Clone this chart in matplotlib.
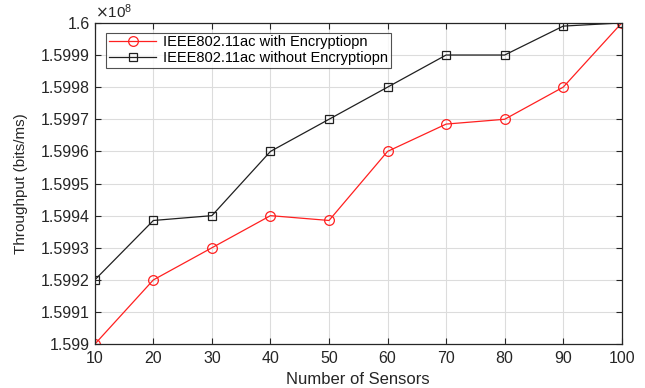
import matplotlib
matplotlib.use("Agg")
import matplotlib.pyplot as plt
from matplotlib.ticker import FuncFormatter, MultipleLocator

plt.rcParams['font.family'] = ['Liberation Sans', 'DejaVu Sans']

sensors = [10, 20, 30, 40, 50, 60, 70, 80, 90, 100]
with_enc = [1.5990e8, 1.5992e8, 1.5993e8, 1.5994e8, 1.599385e8,
            1.5996e8, 1.599685e8, 1.5997e8, 1.5998e8, 1.6000e8]
without_enc = [1.5992e8, 1.599385e8, 1.5994e8, 1.5996e8, 1.5997e8,
               1.5998e8, 1.5999e8, 1.5999e8, 1.59999e8, 1.6000e8]

fig = plt.figure(figsize=(6.45, 3.88), dpi=100)
ax = fig.add_axes([0.147, 0.113, 0.817, 0.828])

ax.plot(sensors, with_enc, color='#ff2020', lw=0.9, marker='o', ms=7,
        mfc='none', mec='#ff2020', mew=0.9,
        label='IEEE802.11ac with Encryptiopn')
ax.plot(sensors, without_enc, color='#202020', lw=0.9, marker='s', ms=5.5,
        mfc='none', mec='#202020', mew=0.9,
        label='IEEE802.11ac without Encryptiopn')

ax.set_xlim(10, 100)
ax.set_ylim(1.5990e8, 1.6000e8)
ax.xaxis.set_major_locator(MultipleLocator(10))
ax.yaxis.set_major_locator(MultipleLocator(1e4))
ax.yaxis.set_major_formatter(FuncFormatter(lambda v, p: f"{v / 1e8:.5f}".rstrip('0').rstrip('.')))

ax.grid(True, color='#dcdcdc', lw=0.8)
ax.set_axisbelow(True)
ax.tick_params(direction='in', top=True, right=True, labelsize=11.5,
               colors='#262626', length=4, width=0.8)
ax.tick_params(axis='x', pad=5)
for s in ax.spines.values():
    s.set_color('#262626')
    s.set_linewidth(0.9)

ax.set_xlabel('Number of Sensors', fontsize=12, color='#262626', labelpad=4)
ax.set_ylabel('Throughput (bits/ms)', fontsize=11, color='#262626', labelpad=9)
ax.text(0.0, 1.005, r'$\times\mathregular{10^{8}}$', transform=ax.transAxes, fontsize=11,
        color='#262626', ha='left', va='bottom')

leg = ax.legend(loc='upper left', bbox_to_anchor=(0.022, 0.97), fontsize=10.5,
                frameon=True, fancybox=False, edgecolor='#262626',
                borderpad=0.2, labelspacing=0.1, handlelength=3.2,
                handletextpad=0.5, borderaxespad=0)
leg.get_frame().set_linewidth(0.8)

fig.savefig('out.png', dpi=100)
